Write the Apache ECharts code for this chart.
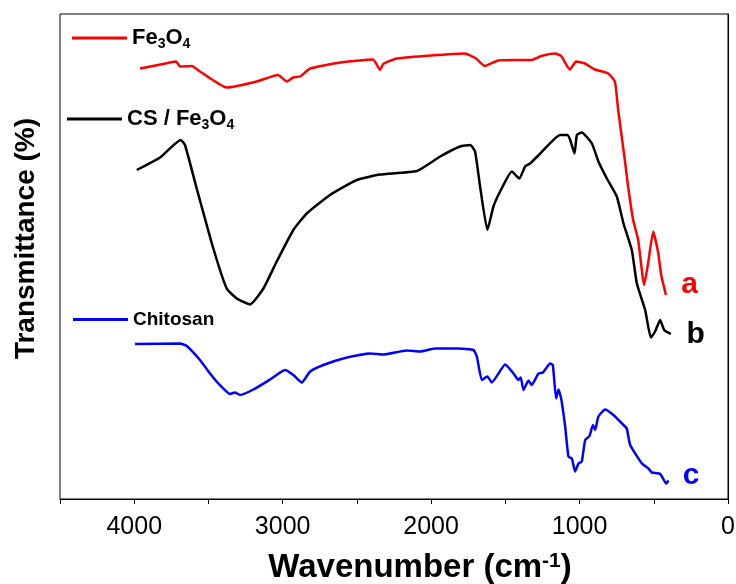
<!DOCTYPE html>
<html>
<head>
<meta charset="utf-8">
<title>FTIR</title>
<script src="https://cdn.jsdelivr.net/npm/echarts@6/dist/echarts.min.js"></script>
<style>
  html, body { margin: 0; padding: 0; background: #fff; }
  #main { width: 736px; height: 584px; }
</style>
</head>
<body>
<div id="main"></div>
<script>
// wavenumbers (cm-1) and transmittance (a.u., offset curves)
var feWn = [3961, 3806, 3718, 3691, 3613, 3557, 3377, 3175, 3031, 2972, 2930, 2883, 2815, 2613, 2391, 2344, 2323, 2231,
  1773, 1697, 1638, 1549, 1436, 1326, 1259, 1166, 1124, 1065, 1023, 964, 897, 807, 762, 740, 695, 673, 639, 605,
  565, 538, 504, 470, 450, 418];
var feT = [86.1, 87.0, 87.5, 86.5, 86.6, 85.5, 82.3, 83.5, 84.8, 83.5, 84.3, 84.5, 86.1, 87.3, 87.9, 85.8, 87.0, 88.1,
  89.1, 88.1, 86.6, 87.7, 87.8, 87.8, 88.6, 89.1, 88.6, 85.9, 87.5, 87.1, 85.9, 85.1, 83.5, 77.8, 67.8, 62.5, 55.8, 51.8,
  42.8, 47.2, 53.5, 49.2, 44.8, 40.8];

var csWn = [3983, 3826, 3687, 3658, 3579, 3467, 3377, 3309, 3220, 3130, 3040, 2928, 2838, 2681, 2501, 2344, 2096, 1939,
  1805, 1737, 1704, 1670, 1621, 1580, 1535, 1456, 1405, 1367, 1333, 1265, 1131, 1082, 1063, 1034, 1018, 985, 917, 873,
  816, 749, 704, 648, 614, 558, 520, 491, 457, 430, 385];
var csT = [65.8, 68.3, 71.8, 70.8, 62.1, 50.1, 42.1, 40.1, 38.9, 42.1, 47.5, 53.8, 57.1, 60.8, 63.8, 64.9, 65.6, 68.5,
  70.5, 70.8, 69.5, 62.5, 53.8, 58.5, 61.5, 65.5, 64.1, 66.5, 67.1, 69.1, 72.8, 72.8, 71.8, 69.1, 72.8, 73.3, 71.1, 67.5,
  64.1, 60.5, 55.1, 49.8, 43.1, 37.8, 32.3, 33.5, 35.8, 33.8, 33.0];

var chWn = [3995, 3691, 3646, 3557, 3489, 3433, 3354, 3321, 3287, 3197, 3085, 2984, 2928, 2871, 2815, 2726, 2591, 2411,
  2321, 2164, 2074, 1973, 1816, 1715, 1692, 1658, 1621, 1591, 1501, 1445, 1412, 1396, 1378, 1344, 1322, 1277, 1247,
  1198, 1180, 1158, 1142, 1124, 1097, 1075, 1052, 1030, 1007, 985, 962, 933, 910, 895, 873, 828, 772, 704, 682, 659,
  580, 536, 513, 457, 416, 401];
var chT = [31.0, 31.1, 30.6, 27.8, 25.1, 23.1, 21.0, 21.3, 20.8, 21.9, 23.9, 25.8, 24.8, 23.3, 25.5, 26.8, 28.1, 29.1,
  28.9, 29.7, 29.5, 30.1, 30.1, 29.8, 28.5, 23.8, 24.5, 23.3, 26.9, 25.1, 23.8, 24.3, 21.8, 23.7, 22.8, 25.1, 25.3,
  27.1, 26.8, 20.1, 21.9, 20.1, 14.5, 8.5, 8.1, 5.5, 7.1, 7.5, 11.8, 12.6, 14.8, 13.8, 16.5, 17.9, 16.8, 14.8, 14.1, 10.8,
  7.1, 6.1, 5.3, 5.0, 3.1, 3.7];

var seriesNames = ["Fe3O4", "CS / Fe3O4", "Chitosan"];
var seriesColors = ["#ff0000", "#000000", "#0000ff"];
var endLetters = ["a", "b", "c"];

function pairs(xs, ys) {
  return xs.map(function (x, i) { return [x, ys[i]]; });
}

var FONT = "'Liberation Sans', Arial, sans-serif";
var chart = echarts.init(document.getElementById("main"));

var subRich = {
  n: { fontFamily: FONT, fontWeight: "bold", fontSize: 22, lineHeight: 26, color: "#000" },
  s: { fontFamily: FONT, fontWeight: "bold", fontSize: 14, lineHeight: 10, verticalAlign: "bottom", color: "#000" }
};

function lineSeries(i, data) {
  return {
    name: seriesNames[i],
    type: "line",
    data: data,
    showSymbol: false,
    smooth: 0.15,
    lineStyle: { color: seriesColors[i], width: 2.5 },
    itemStyle: { color: seriesColors[i] },
    endLabel: {
      show: true,
      formatter: endLetters[i],
      color: seriesColors[i],
      fontFamily: FONT,
      fontWeight: "bold",
      fontSize: 30,
      offset: [[40, -10], [42, 1], [39, -5]][i]
    }
  };
}

chart.setOption({
  backgroundColor: "#fff",
  animation: false,
  grid: {
    left: 60, right: 8, top: 14, bottom: 85, outerBoundsMode: "none",
    show: true, borderColor: "#000", borderWidth: 1
  },
  legend: [
    {
      data: [seriesNames[0]], left: 67, top: 22, itemWidth: 55, itemHeight: 3, icon: "rect",
      formatter: function () { return "{n|Fe}{s|3}{n|O}{s|4}"; },
      textStyle: { rich: subRich }
    },
    {
      data: [seriesNames[1]], left: 62, top: 103, itemWidth: 55, itemHeight: 3, icon: "rect",
      formatter: function () { return "{n|CS / Fe}{s|3}{n|O}{s|4}"; },
      textStyle: { rich: subRich }
    },
    {
      data: [seriesNames[2]], left: 68, top: 305, itemWidth: 55, itemHeight: 3, icon: "rect",
      textStyle: { fontFamily: FONT, fontWeight: "bold", fontSize: 19, color: "#000" }
    }
  ],
  xAxis: {
    type: "value",
    min: 0,
    max: 4500,
    interval: 500,
    inverse: true,
    name: "Wavenumber (cm{sup|-1})",
    nameLocation: "middle",
    nameGap: 52,
    nameTextStyle: {
      fontFamily: FONT, fontWeight: "bold", fontSize: 33, color: "#000",
      padding: [0, 0, 0, 52],
      rich: { sup: { fontFamily: FONT, fontWeight: "bold", fontSize: 21, verticalAlign: "top", lineHeight: 14, color: "#000" } }
    },
    axisLine: { lineStyle: { color: "#000", width: 1 } },
    axisTick: { show: true, length: 5, lineStyle: { color: "#000" } },
    axisLabel: {
      color: "#000", fontFamily: FONT, fontSize: 25, margin: 16,
      formatter: function (v) { return v % 1000 === 0 ? String(v) : ""; }
    },
    splitLine: { show: false }
  },
  yAxis: {
    type: "value",
    min: 0,
    max: 97,
    name: "Transmittance (%)",
    nameLocation: "middle",
    nameGap: 20,
    nameTextStyle: { fontFamily: FONT, fontWeight: "bold", fontSize: 28, color: "#000", padding: [0, 0, 0, 36] },
    axisLine: { show: true, lineStyle: { color: "#000", width: 1 } },
    axisTick: { show: false },
    axisLabel: { show: false },
    splitLine: { show: false }
  },
  series: [
    lineSeries(0, pairs(feWn, feT)),
    lineSeries(1, pairs(csWn, csT)),
    lineSeries(2, pairs(chWn, chT))
  ]
});
</script>
</body>
</html>
